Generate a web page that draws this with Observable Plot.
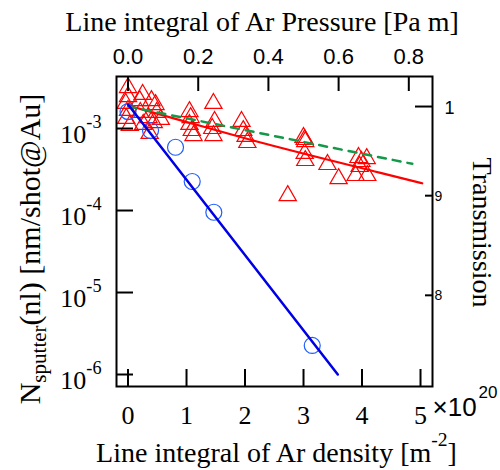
<!DOCTYPE html>
<html><head><meta charset="utf-8">
<script src="https://cdn.jsdelivr.net/npm/d3@7"></script>
<script src="https://cdn.jsdelivr.net/npm/@observablehq/plot@0.6"></script>
<style>body{margin:0;background:#fff}svg{display:block}</style>
</head><body><div id="chart"></div>
<script>
// ---- data (x in 10^20 m^-2, y in nm/shot@Au) ----
const triangleX = [0.0, 0.0, -0.04, 0.0, -0.03, 0.03, 0.2, 0.25, 0.4, 0.47, 0.21, 0.35, 0.49, 0.26, 0.44, 0.37, 0.56,
  1.05, 1.07, 1.05, 1.09, 1.12,
  1.46, 1.48, 1.44, 1.46,
  1.94, 1.97, 2.01, 2.04,
  3.0, 3.02, 3.03, 3.02, 3.03, 3.41, 3.6, 2.73,
  3.94, 4.08, 3.99, 3.96, 3.89, 4.09];
const triangleY = [3.16e-3, 2.45e-3, 2.02e-3, 1.66e-3, 1.33e-3, 1.09e-3, 2.19e-3, 2.6e-3, 2.19e-3, 1.96e-3, 1.57e-3, 1.36e-3, 1.57e-3, 1.12e-3, 1.18e-3, 8.7e-4, 1.29e-3,
  1.61e-3, 1.36e-3, 1.12e-3, 9.45e-4, 8.2e-4,
  2.02e-3, 1.22e-3, 1.0e-3, 8.2e-4,
  1.22e-3, 9.45e-4, 8.0e-4, 6.75e-4,
  7.77e-4, 7.34e-4, 6.93e-4, 4.96e-4, 4.07e-4, 3.64e-4, 2.45e-4, 1.52e-4,
  4.43e-4, 4.3e-4, 3.96e-4, 3.44e-4, 2.67e-4, 2.67e-4];
const circleX = [0.0, 0.385, 0.812, 1.097, 1.467, 3.149];
const circleY = [1.61e-3, 9.45e-4, 5.91e-4, 2.26e-4, 9.53e-5, 2.26e-6];
const blueFitX = [0, 3.586];
const blueFitY = [1.96e-3, 1.0e-6];
const redFitX = [0, 0.812, 2.35, 4.316, 5.03];
const redFitY = [1.908e-3, 1.313e-3, 6.51e-4, 2.88e-4, 2.15e-4];
const transX = [0, 4.86];           // transmission curve (right axis)
const transT = [1.0, 0.9345];
// ---- axes ----
const bottomTicks = [0, 1, 2, 3, 4, 5];
const bottomTickLabels = ["0", "1", "2", "3", "4", "5"];
const topTicks = [0, 0.2, 0.4, 0.6, 0.8];             // Pa m
const topTickLabels = ["0.0", "0.2", "0.4", "0.6", "0.8"];
const leftTicks = [1e-6, 1e-5, 1e-4, 1e-3];
const leftTickLabels = ["10^{-6}", "10^{-5}", "10^{-4}", "10^{-3}"];
const rightMajorTicks = [1];
const rightMajorLabels = ["1"];
const rightMinorTicks = [0.9, 0.8];
const rightMinorLabels = ["9", "8"];
const DENSITY_PER_PA_M = 6.0;        // 1 Pa m  <->  6 x 10^20 m^-2
const T1_LEFT = 1.8545e-3, T_POW = 23.76; // right (transmission) axis aligned to left log axis
const toLeft = T => T1_LEFT * Math.pow(T, T_POW);

const W = 500, H = 470, mT = 76, mR = 68, mB = 84, mL = 116;
const FW = W - mL - mR, FH = H - mT - mB;
const SERIF = "Liberation Serif, Times New Roman, serif";
const SANS = "Liberation Sans, Arial, sans-serif";

const tri = triangleX.map((x, i) => ({x, y: triangleY[i]}));
const circ = circleX.map((x, i) => ({x, y: circleY[i]}));
const blue = blueFitX.map((x, i) => ({x, y: blueFitY[i]}));
const red = redFitX.map((x, i) => ({x, y: redFitY[i]}));
const green = transX.map((x, i) => ({x, y: toLeft(transT[i])}));

const chart = Plot.plot({
  width: W, height: H, marginTop: mT, marginRight: mR, marginBottom: mB, marginLeft: mL,
  x: {domain: [-0.197, 5.205], axis: null},
  y: {type: "log", domain: [7.14e-7, 4.31e-3], axis: null},
  marks: [
    Plot.dot(tri, {x: "x", y: "y", symbol: "triangle", r: 6.4, stroke: "#ff0000", strokeWidth: 1.2, fill: "none"}),
    Plot.dot(circ, {x: "x", y: "y", r: 8, stroke: "#1f5cff", strokeWidth: 1.2, fill: "none"}),
    Plot.line(red, {x: "x", y: "y", stroke: "#ff0000", strokeWidth: 2.2, curve: "monotone-x"}),
    Plot.line(green, {x: "x", y: "y", stroke: "#14984a", strokeWidth: 2.5, strokeDasharray: "8,7"}),
    Plot.line(blue, {x: "x", y: "y", stroke: "#0000e6", strokeWidth: 2.5}),
    // ticks (inward)
    Plot.tickX(bottomTicks, {x: d => d, insetTop: FH - 17, stroke: "black", strokeWidth: 2}),
    Plot.tickX(topTicks, {x: d => d * DENSITY_PER_PA_M, insetBottom: FH - 15, stroke: "black", strokeWidth: 2}),
    Plot.tickY(leftTicks, {y: d => d, insetRight: FW - 17, stroke: "black", strokeWidth: 2}),
    Plot.tickY(rightMajorTicks, {y: toLeft, insetLeft: FW - 17, stroke: "black", strokeWidth: 2}),
    Plot.tickY(rightMinorTicks, {y: toLeft, insetLeft: FW - 7, stroke: "black", strokeWidth: 2}),
    Plot.frame({stroke: "black", strokeWidth: 2}),
    // tick labels
    Plot.text(bottomTicks, {x: d => d, text: (d, i) => bottomTickLabels[i], frameAnchor: "bottom", dy: 37, lineAnchor: "bottom", fontSize: 26, fontFamily: SERIF, fill: "black"}),
    Plot.text(topTicks, {x: d => d * DENSITY_PER_PA_M, text: (d, i) => topTickLabels[i], frameAnchor: "top", dy: -13, lineAnchor: "bottom", fontSize: 22, fontFamily: SANS, fill: "black"}),
    Plot.text(leftTicks, {y: d => d, text: (d, i) => leftTickLabels[i], frameAnchor: "left", textAnchor: "end", dx: -15, dy: 14.5, lineAnchor: "bottom", fontSize: 26, fontFamily: SERIF, fill: "black"}),
    Plot.text(rightMajorTicks, {y: toLeft, text: (d, i) => rightMajorLabels[i], frameAnchor: "right", textAnchor: "start", dx: 12, dy: 7, lineAnchor: "bottom", fontSize: 18, fontFamily: SANS, fill: "black"}),
    Plot.text(rightMinorTicks, {y: toLeft, text: (d, i) => rightMinorLabels[i], frameAnchor: "right", textAnchor: "start", dx: 2, dy: 5, lineAnchor: "bottom", fontSize: 14, fontFamily: SANS, fill: "black"}),
    Plot.text(["×10"], {frameAnchor: "bottom-right", textAnchor: "start", dx: 0, dy: 29, lineAnchor: "bottom", fontSize: 26, fontFamily: SANS, fill: "black"}),
    Plot.text(["20"], {frameAnchor: "bottom-right", textAnchor: "start", dx: 46, dy: 11, lineAnchor: "bottom", fontSize: 17, fontFamily: SANS, fill: "black"}),
    // axis titles
    Plot.text(["Line integral of Ar Pressure [Pa m]"], {frameAnchor: "top", textAnchor: "middle", dx: -12.5, dy: -46, lineAnchor: "bottom", fontSize: 28, fontFamily: SERIF, fill: "black"}),
    Plot.text(["Line integral of Ar density [m^{-2}]"], {frameAnchor: "bottom", textAnchor: "middle", dx: 2, dy: 75, lineAnchor: "bottom", fontSize: 28, fontFamily: SERIF, fill: "black"}),
    Plot.text(["N_{sputter}(nl) [nm/shot@Au]"], {frameAnchor: "left", textAnchor: "middle", rotate: -90, dx: -77, dy: 17.5, lineAnchor: "bottom", fontSize: 30, fontFamily: SERIF, fill: "black"}),
    Plot.text(["Transmission"], {frameAnchor: "right", textAnchor: "middle", rotate: 90, dx: 40, dy: 1, lineAnchor: "bottom", fontSize: 28, fontFamily: SERIF, fill: "black"})
  ]
});
document.getElementById("chart").appendChild(chart);

// turn ^{..} / _{..} markers into superscript / subscript tspans
function richify(root) {
  root.querySelectorAll("text").forEach(node => {
    const s = node.textContent;
    if (!/[\^_]\{/.test(s)) return;
    const base = parseFloat(getComputedStyle(node).fontSize);
    const parts = []; const re = /([\^_])\{([^}]*)\}/g; let last = 0, m;
    while ((m = re.exec(s))) {
      if (m.index > last) parts.push({k: "n", t: s.slice(last, m.index)});
      parts.push({k: m[1], t: m[2]}); last = re.lastIndex;
    }
    if (last < s.length) parts.push({k: "n", t: s.slice(last)});
    node.textContent = "";
    let off = 0;
    for (const p of parts) {
      const ts = document.createElementNS("http://www.w3.org/2000/svg", "tspan");
      let target = 0, size = base;
      if (p.k === "^") { target = -base * 0.56; size = base * 0.7; }
      if (p.k === "_") { target = base * 0.2; size = base * 0.7; }
      ts.setAttribute("dy", target - off); off = target;
      ts.setAttribute("font-size", size);
      ts.textContent = p.t;
      node.appendChild(ts);
    }
  });
}
richify(chart);
</script></body></html>
